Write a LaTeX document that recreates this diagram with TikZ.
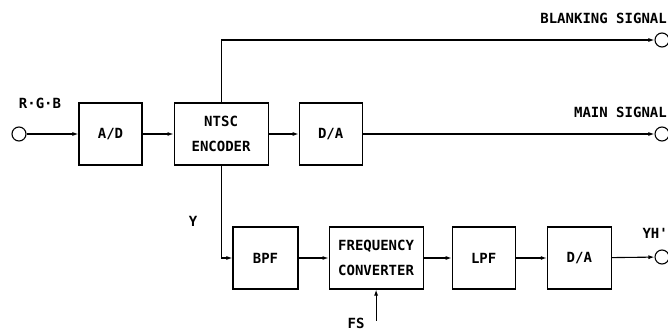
\documentclass[tikz,border=0pt]{standalone}
\usepackage{fontspec}
\setmonofont{DejaVu Sans Mono}
\usepackage{tikz}
\usetikzlibrary{arrows.meta,positioning,calc}

\begin{document}
\begin{tikzpicture}[
  x=1pt, y=1pt,
  node distance=30pt,
  box/.style={draw, line width=1.1pt, align=center, minimum width=63pt, minimum height=62pt, inner sep=2pt, font=\ttfamily\bfseries\fontsize{14}{25}\selectfont},
  widebox/.style={box, minimum width=94pt},
  term/.style={draw, circle, line width=1.1pt, minimum size=14pt, inner sep=0pt},
  lbl/.style={font=\ttfamily\bfseries\fontsize{14}{16}\selectfont, inner sep=1pt},
  arr/.style={-{Latex[length=6pt,width=4pt]}, line width=1.1pt}
]
  \useasboundingbox (0,0) rectangle (668,-331);

  % upper row
  \node[term] (rgb) at (19,-134) {};
  \node[box] (ad) at (110.5,-134) {A/D};
  \node[widebox, right=31pt of ad] (enc) {NTSC\\ENCODER};
  \node[box, right=30pt of enc] (da) {D/A};

  % outputs
  \node[term] (blank) at (662,-40) {};
  \node[term] (main) at (662,-134) {};
  \node[term] (yh) at (662,-257) {};

  % lower row
  \node[box, minimum width=65pt] (bpf) at (265.5,-258) {BPF};
  \node[widebox, right=30pt of bpf] (fc) {FREQUENCY\\CONVERTER};
  \node[box, right=28pt of fc] (lpf) {LPF};
  \node[box, minimum width=64pt, right=31pt of lpf] (da2) {D/A};

  % labels
  \node[lbl] (rgblab) at (40,-103) {R·G·B};
  \node[lbl, anchor=east] (blanklab) at (668,-18) {BLANKING SIGNAL};
  \node[lbl, anchor=east] (mainlab) at (668,-112) {MAIN SIGNAL};
  \node[lbl, anchor=east] (yhlab) at (669,-233) {YH'};
  \node[lbl] (ylab) at (193,-221) {Y};
  \node[lbl] (fslab) at (356,-323) {FS};
  \coordinate (fsin) at ($(fc.south)+(0,-31)$);

  \draw[arr] (rgb) -- (ad);
  \draw[arr] (ad) -- (enc);
  \draw[arr] (enc) -- (da);
  \draw[arr] (da) -- (main);
  \draw[arr] (enc.north) |- (blank);
  \draw[arr] (enc.south) |- (bpf);
  \draw[arr] (bpf) -- (fc);
  \draw[arr] (fc) -- (lpf);
  \draw[arr] (lpf) -- (da2);
  \draw[arr] (da2) -- (yh);
  \draw[arr] (fsin) -- (fc.south);
\end{tikzpicture}
\end{document}
